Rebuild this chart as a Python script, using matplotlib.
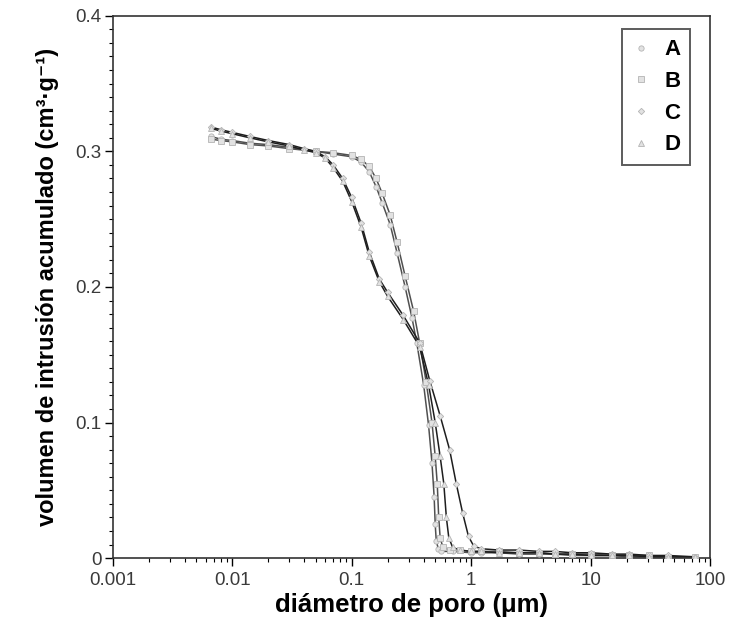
import matplotlib
matplotlib.use("Agg")
import matplotlib.pyplot as plt
from matplotlib.ticker import FixedLocator, MultipleLocator, LogLocator, NullFormatter

plt.rcParams['font.family'] = ['Liberation Sans', 'DejaVu Sans']

# ----------------------------
# data
# ----------------------------
labels = ["A", "B", "C", "D"]

# tail shared by all samples (> 1 um)
d_tail = [1.2, 1.7, 2.5, 3.7, 5, 7, 10, 15, 21, 31, 44, 75]

d_A = [0.0066, 0.008, 0.01, 0.014, 0.02, 0.03, 0.05, 0.07, 0.1, 0.12, 0.14, 0.16, 0.18, 0.21,
       0.24, 0.28, 0.32, 0.35, 0.40, 0.44, 0.47, 0.49, 0.50, 0.51, 0.53, 0.56, 0.7, 1.0] + d_tail
v_A = [0.311, 0.309, 0.308, 0.306, 0.305, 0.303, 0.300, 0.298, 0.296, 0.292, 0.285, 0.274, 0.262, 0.246,
       0.225, 0.200, 0.177, 0.159, 0.128, 0.098, 0.070, 0.045, 0.025, 0.013, 0.007, 0.005, 0.005, 0.004,
       0.004, 0.004, 0.003, 0.003, 0.003, 0.002, 0.002, 0.002, 0.001, 0.001, 0.001, 0.001]

d_B = [0.0066, 0.008, 0.01, 0.014, 0.02, 0.03, 0.05, 0.07, 0.1, 0.12, 0.14, 0.16, 0.18, 0.21,
       0.24, 0.28, 0.33, 0.37, 0.42, 0.47, 0.50, 0.52, 0.535, 0.55, 0.58, 0.66, 0.8, 1.0] + d_tail
v_B = [0.309, 0.308, 0.307, 0.305, 0.304, 0.302, 0.300, 0.299, 0.297, 0.294, 0.289, 0.280, 0.269, 0.253,
       0.233, 0.208, 0.182, 0.159, 0.130, 0.100, 0.075, 0.055, 0.030, 0.015, 0.008, 0.006, 0.006, 0.005,
       0.005, 0.005, 0.004, 0.004, 0.003, 0.003, 0.003, 0.002, 0.002, 0.002, 0.001, 0.001]

d_C = [0.0066, 0.008, 0.01, 0.014, 0.02, 0.03, 0.04, 0.05, 0.06, 0.07, 0.084, 0.1, 0.12, 0.14,
       0.17, 0.2, 0.27, 0.37, 0.45, 0.55, 0.66, 0.75, 0.85, 0.95, 1.05] + d_tail
v_C = [0.318, 0.316, 0.314, 0.311, 0.308, 0.305, 0.302, 0.300, 0.296, 0.290, 0.280, 0.266, 0.247, 0.226,
       0.206, 0.196, 0.179, 0.159, 0.131, 0.105, 0.080, 0.055, 0.033, 0.016, 0.009,
       0.007, 0.006, 0.006, 0.005, 0.005, 0.004, 0.004, 0.003, 0.003, 0.002, 0.002, 0.001]

d_D = [0.0066, 0.008, 0.01, 0.014, 0.02, 0.03, 0.04, 0.05, 0.06, 0.07, 0.084, 0.1, 0.12, 0.14,
       0.17, 0.2, 0.27, 0.37, 0.44, 0.50, 0.55, 0.59, 0.62, 0.65, 0.70, 0.8, 1.0] + d_tail
v_D = [0.317, 0.315, 0.313, 0.310, 0.307, 0.304, 0.301, 0.299, 0.295, 0.288, 0.278, 0.263, 0.244, 0.223,
       0.204, 0.193, 0.176, 0.156, 0.128, 0.100, 0.075, 0.055, 0.030, 0.015, 0.008, 0.006, 0.005,
       0.005, 0.004, 0.004, 0.004, 0.003, 0.003, 0.002, 0.002, 0.002, 0.001, 0.001, 0.001]

series = [(d_A, v_A), (d_B, v_B), (d_C, v_C), (d_D, v_D)]
markers = ["o", "s", "D", "^"]
msizes = [3.8, 3.8, 3.2, 4.2]
line_colors = ["#505050", "#505050", "#1e1e1e", "#1e1e1e"]

# ----------------------------
# plot
# ----------------------------
fig = plt.figure(figsize=(7.42, 6.30), dpi=100)
ax = fig.add_axes([0.152, 0.114, 0.805, 0.861])

handles = []
for (d, v), lab, m, ms, lc in zip(series, labels, markers, msizes, line_colors):
    ax.plot(d, v, color=lc, lw=1.1, zorder=2, solid_joinstyle="round")
    h, = ax.plot(d, v, linestyle="none", marker=m, ms=ms, mfc="#e2e2e2",
                 mec="#b4b4b4", mew=0.6, zorder=3, label=lab)
    handles.append(h)

ax.set_xscale("log")
ax.set_xlim(0.001, 100)
ax.set_ylim(0, 0.4)

ax.set_xticks([0.001, 0.01, 0.1, 1, 10, 100])
ax.set_xticklabels(["0.001", "0.01", "0.1", "1", "10", "100"])
ax.xaxis.set_minor_locator(LogLocator(base=10, subs=range(2, 10)))
ax.xaxis.set_minor_formatter(NullFormatter())
ax.yaxis.set_major_locator(FixedLocator([0, 0.1, 0.2, 0.3, 0.4]))
ax.set_yticklabels(["0", "0.1", "0.2", "0.3", "0.4"])
ax.yaxis.set_minor_locator(MultipleLocator(0.01))

ax.tick_params(which="major", direction="out", length=6, width=1, labelsize=13.5,
               labelcolor="#3a3a3a", pad=2, top=False, right=False)
ax.tick_params(which="minor", direction="out", length=3, width=0.8, top=False, right=False)
ax.tick_params(axis="x", which="major", pad=4)
for s in ax.spines.values():
    s.set_linewidth(1.2)
    s.set_color("#333333")

ax.set_xlabel("diámetro de poro (μm)", fontsize=18.5, fontweight="bold", labelpad=3)
ax.set_ylabel("volumen de intrusión acumulado (cm³·g⁻¹)",
              fontsize=17, fontweight="bold", labelpad=12)

leg = ax.legend(handles=handles, loc="upper right", bbox_to_anchor=(0.967, 0.975),
                borderaxespad=0, frameon=True, fancybox=False, edgecolor="#333333",
                prop={"weight": "bold", "size": 16}, labelspacing=0.48,
                handlelength=0.8, handletextpad=0.65, borderpad=0.45, markerscale=1.0)
leg.get_frame().set_linewidth(1.4)

fig.savefig("out.png", dpi=100)
